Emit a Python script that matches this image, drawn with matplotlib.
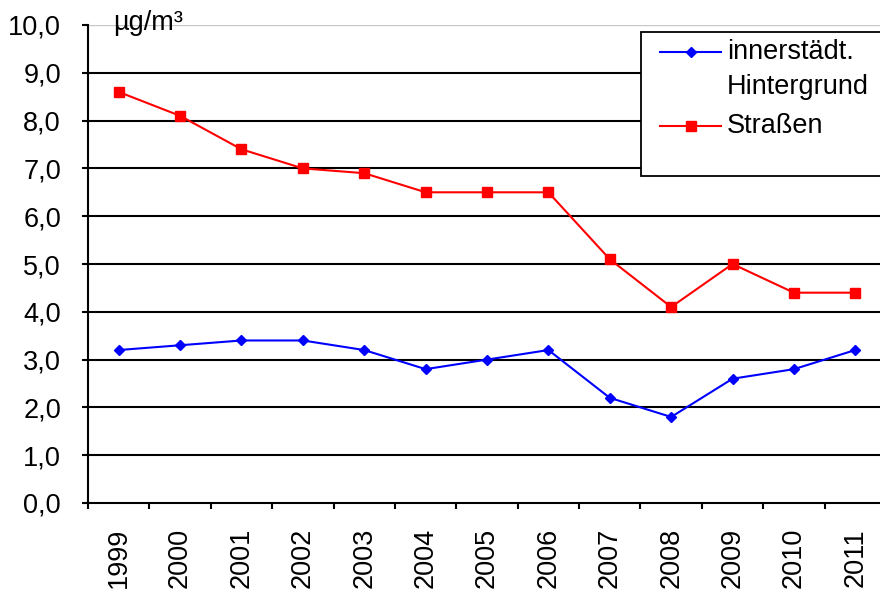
import matplotlib
matplotlib.use("Agg")
import matplotlib.pyplot as plt
from matplotlib.ticker import FuncFormatter, FixedLocator
from matplotlib.lines import Line2D
from matplotlib.patches import Rectangle

plt.rcParams['font.family'] = ['Liberation Sans', 'DejaVu Sans']

# Jahresmittelwerte in µg/m³
jahre = ["1999", "2000", "2001", "2002", "2003", "2004", "2005",
         "2006", "2007", "2008", "2009", "2010", "2011"]
hintergrund = [3.2, 3.3, 3.4, 3.4, 3.2, 2.8, 3.0, 3.2, 2.2, 1.8, 2.6, 2.8, 3.2]
strassen = [8.6, 8.1, 7.4, 7.0, 6.9, 6.5, 6.5, 6.5, 5.1, 4.1, 5.0, 4.4, 4.4]

W, H = 880, 591
fig = plt.figure(figsize=(W / 100, H / 100), dpi=100)
ax = fig.add_axes([88 / W, 1 - 503 / H, (886 - 88) / W, (503 - 25) / H])

x = list(range(len(jahre)))
blau = "#0000FF"
rot = "#FF0000"
fs = 19.5

# horizontale Gitterlinien
for v in range(1, 10):
    ax.axhline(v, color="black", lw=1.5, zorder=1)
ax.axhline(10, color="#C8C8C8", lw=1.0, zorder=1)

ax.plot(x, hintergrund, color=blau, lw=1.5, marker="D", ms=5,
        mfc=blau, mec=blau, zorder=3, clip_on=False)
ax.plot(x, strassen, color=rot, lw=1.5, marker="s", ms=7.5,
        mfc=rot, mec=rot, zorder=3, clip_on=False)

ax.set_xlim(-0.5, len(jahre) - 0.5)
ax.set_ylim(0, 10)

ax.set_yticks([i for i in range(11)])
ax.yaxis.set_major_formatter(FuncFormatter(lambda v, p: f"{v:.1f}".replace(".", ",")))
ax.tick_params(axis="y", direction="out", length=4.5, width=1.5, pad=15,
               labelsize=fs)

ax.set_xticks(x)
ax.set_xticklabels(jahre, rotation=90, va="top")
ax.xaxis.set_minor_locator(FixedLocator([i - 0.5 for i in range(len(jahre) + 1)]))
ax.tick_params(axis="x", which="major", length=0, pad=18, labelsize=fs)
ax.tick_params(axis="x", which="minor", direction="out", length=4.5, width=1.5)

for s in ["top", "right"]:
    ax.spines[s].set_visible(False)
for s in ["left", "bottom"]:
    ax.spines[s].set_linewidth(1.5)
    ax.spines[s].set_color("black")

fig.text(113 / W, 1 - 23 / H, "µg/m³", fontsize=fs, va="center", ha="left")


# Legende
def fx(px):
    return px / W


def fy(py):
    return 1 - py / H


box = Rectangle((fx(641), fy(176)), fx(900) - fx(641), fy(32) - fy(176),
                transform=fig.transFigure, facecolor="white",
                edgecolor="black", lw=1.3, zorder=5)
fig.patches.append(box)
eintraege = [(blau, "D", 5, 52), (rot, "s", 7.5, 126)]
for farbe, marker, ms, py in eintraege:
    fig.lines.append(Line2D([fx(660), fx(721)], [fy(py), fy(py)],
                            transform=fig.transFigure, color=farbe, lw=1.5,
                            zorder=6))
    fig.lines.append(Line2D([fx(690.5)], [fy(py)], transform=fig.transFigure,
                            marker=marker, ms=ms, color=farbe, mfc=farbe,
                            mec=farbe, zorder=6))

fig.text(fx(727), fy(52), "innerstädt.", fontsize=fs, va="center", ha="left", zorder=7)
fig.text(fx(727), fy(87), "Hintergrund", fontsize=fs, va="center", ha="left", zorder=7)
fig.text(fx(727), fy(126), "Straßen", fontsize=fs, va="center", ha="left", zorder=7)

fig.savefig("out.png", dpi=100)
